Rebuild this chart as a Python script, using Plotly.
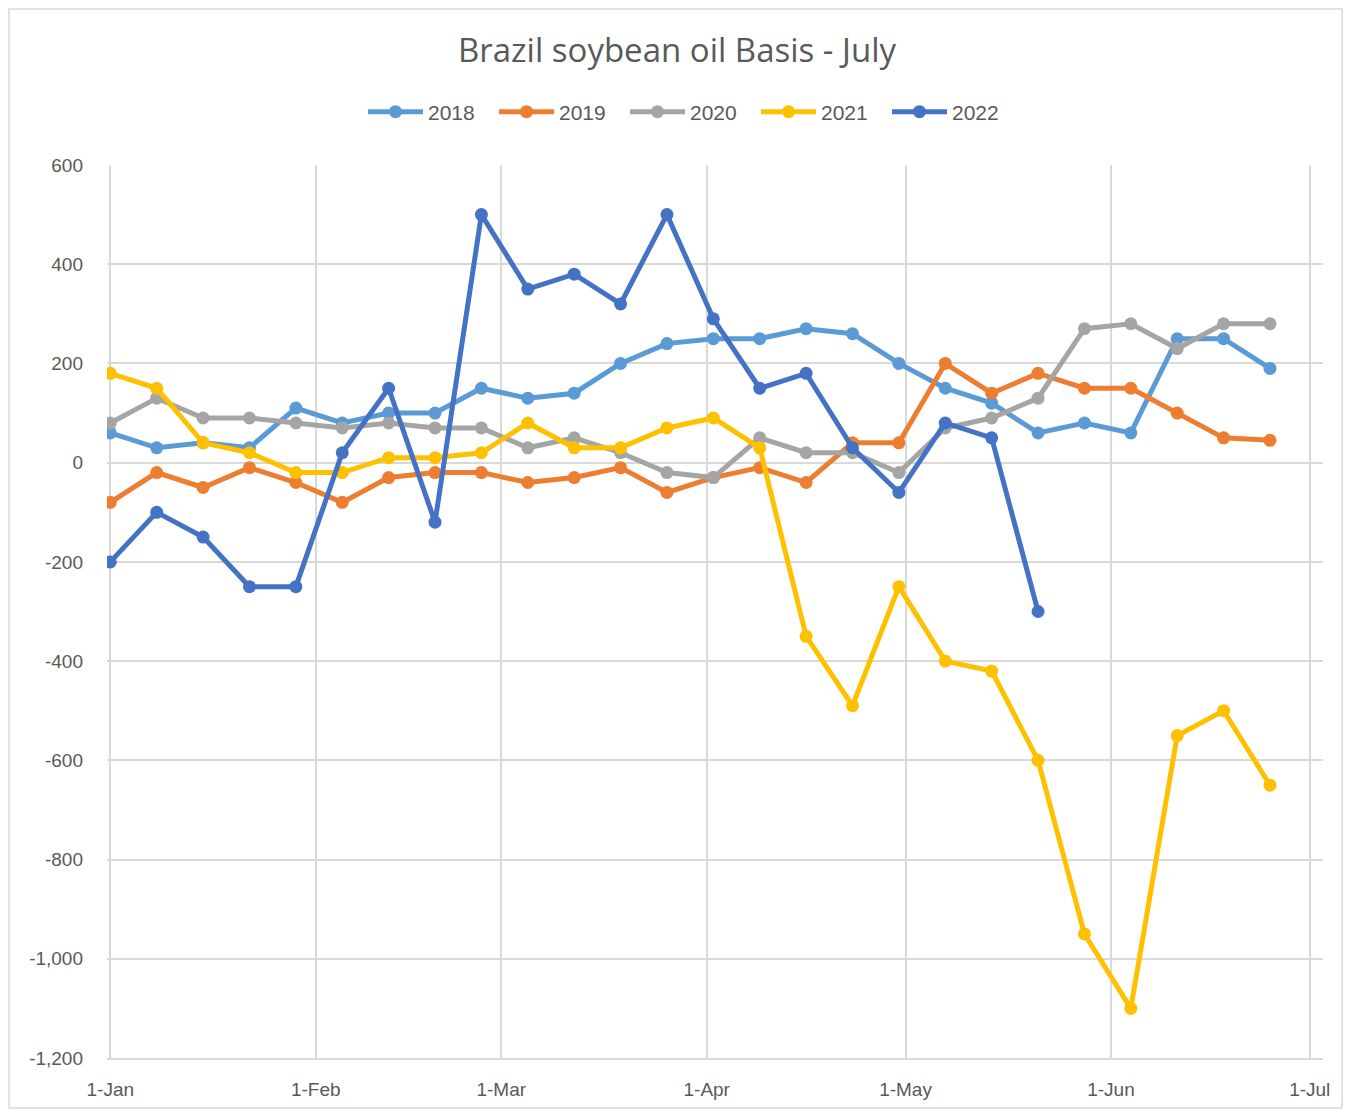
import plotly.graph_objects as go
import pandas as pd

dates = pd.date_range("2022-01-01", periods=26, freq="7D")

s2018 = [60, 30, 40, 30, 110, 80, 100, 100, 150, 130, 140, 200, 240, 250, 250, 270, 260, 200, 150, 120, 60, 80, 60, 250, 250, 190]
s2019 = [-80, -20, -50, -10, -40, -80, -30, -20, -20, -40, -30, -10, -60, -30, -10, -40, 40, 40, 200, 140, 180, 150, 150, 100, 50, 45]
s2020 = [80, 130, 90, 90, 80, 70, 80, 70, 70, 30, 50, 20, -20, -30, 50, 20, 20, -20, 70, 90, 130, 270, 280, 230, 280, 280]
s2021 = [180, 150, 40, 20, -20, -20, 10, 10, 20, 80, 30, 30, 70, 90, 30, -350, -490, -250, -400, -420, -600, -950, -1100, -550, -500, -650]
s2022 = [-200, -100, -150, -250, -250, 20, 150, -120, 500, 350, 380, 320, 500, 290, 150, 180, 30, -60, 80, 50, -300]

series_names = ["2018", "2019", "2020", "2021", "2022"]
series_values = [s2018, s2019, s2020, s2021, s2022]
colors = ["#5B9BD5", "#ED7D31", "#A5A5A5", "#FFC000", "#4472C4"]

y_tickvals = [600, 400, 200, 0, -200, -400, -600, -800, -1000, -1200]
y_ticktext = ["600", "400", "200", "0", "-200", "-400", "-600", "-800", "-1,000", "-1,200"]
x_tickvals = ["2022-01-01", "2022-02-01", "2022-03-01", "2022-04-01", "2022-05-01", "2022-06-01", "2022-07-01"]
x_ticktext = ["1-Jan", "1-Feb", "1-Mar", "1-Apr", "1-May", "1-Jun", "1-Jul"]

FONT = "Liberation Sans Narrow, Liberation Sans, Arial, sans-serif"
TXT = "#595959"

W, H = 1335, 1101
L, R, T, B = 99, 20, 157, 51
PW, PH = W - L - R, H - T - B

fig = go.Figure()
for name, vals, c in zip(series_names, series_values, colors):
    fig.add_trace(go.Scatter(
        x=dates[:len(vals)], y=vals, name=name, mode="lines+markers",
        line=dict(color=c, width=5), marker=dict(color=c, size=13),
    ))

fig.update_layout(
    width=W, height=H,
    paper_bgcolor="white", plot_bgcolor="white",
    margin=dict(l=L, r=R, t=T, b=B),
    font=dict(family=FONT, color=TXT, size=18),
    title=dict(text="Brazil soybean oil Basis - July", xref="container", x=(677 - 8) / W, xanchor="center",
               y=1 - 42 / H, yanchor="middle",
               font=dict(size=33, color=TXT, family="Open Sans, sans-serif")),
    legend=dict(orientation="h", x=(363 - 8 - L) / PW, xanchor="left", y=1 + (157 - 104) / PH, yanchor="middle",
                font=dict(size=21, color=TXT), itemwidth=55, entrywidth=61, entrywidthmode="pixels",
                traceorder="normal"),
    showlegend=True,
)
fig.update_xaxes(
    type="date", range=["2021-12-31 12:00", "2022-07-03"],
    tickvals=x_tickvals, ticktext=x_ticktext,
    showgrid=True, gridcolor="#D9D9D9", gridwidth=1.5,
    showline=True, linecolor="#D9D9D9", linewidth=1.5,
    ticks="", tickfont=dict(size=19, color=TXT), zeroline=False,
    ticklabelstandoff=13, automargin=False,
)
fig.update_yaxes(
    range=[-1200, 600], tickvals=y_tickvals, ticktext=y_ticktext,
    showgrid=True, gridcolor="#D9D9D9", gridwidth=1.5,
    showline=False, zeroline=False, ticks="",
    tickfont=dict(size=19, color=TXT), ticklabelstandoff=23, automargin=False,
)
# chart border
fig.add_shape(type="rect", xref="paper", yref="paper",
              x0=(1 - L) / PW, x1=(W - 1 - L) / PW,
              y0=-(B - 1) / PH, y1=(H - B - 1) / PH,
              line=dict(color="#D9D9D9", width=1.5), layer="below")

fig.write_html("out.html")
